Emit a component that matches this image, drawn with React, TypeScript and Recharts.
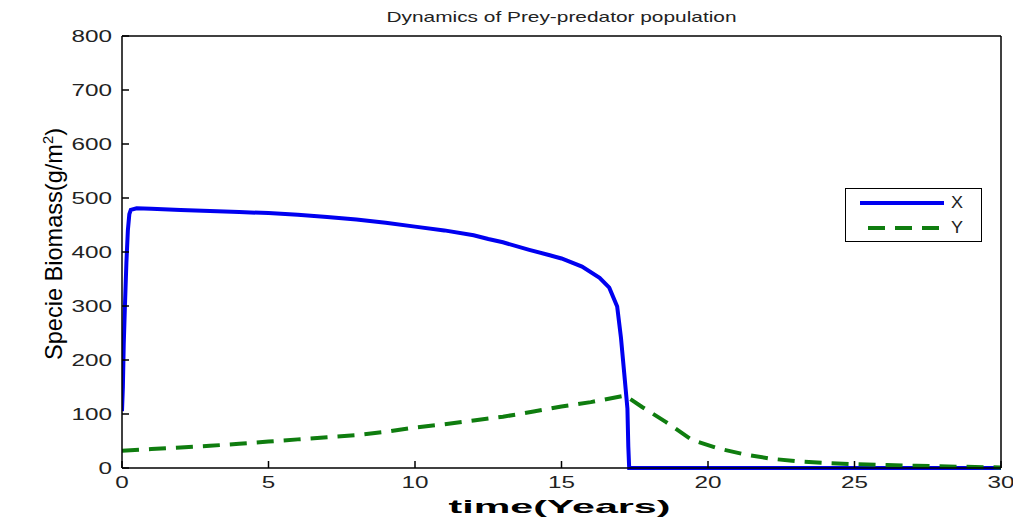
import React from 'react';
import { LineChart, Line, XAxis, YAxis, Legend, Label } from 'recharts';

// Prey (X) population
const preyTime = [0, 0.03, 0.06, 0.1, 0.15, 0.2, 0.25, 0.3, 0.5, 1, 2, 3, 4, 5, 6, 7, 8, 9, 10, 11, 12, 12.5, 13, 13.9, 14.6, 15, 15.7, 16.3, 16.63, 16.9, 17.03, 17.14, 17.25, 17.28, 17.31, 20, 25, 30];
const preyValues = [105, 150, 230, 300, 380, 440, 470, 478, 481, 480, 478, 476, 474, 472, 469, 465, 460, 454, 447, 440, 431, 424, 418, 404, 394, 388, 373, 352, 334, 299, 241, 176, 110, 40, 0, 0, 0, 0];

// Predator (Y) population
const predatorTime = [0, 1, 2, 3, 4, 5, 6, 7, 8, 9, 10, 11, 12, 13, 14, 15, 16, 17.17, 17.75, 18.57, 19.45, 20.36, 21.27, 22.18, 23.15, 24.05, 25, 26.1, 27.1, 28.5, 30];
const predatorValues = [32, 35, 38, 41, 45, 49, 53, 57, 61, 67, 75, 81, 88, 95, 104, 114, 122, 134, 113, 85, 52, 36, 25, 17, 12, 9, 7, 5.5, 4, 2.5, 1];

const xTicks = [0, 5, 10, 15, 20, 25, 30];
const yTicks = [0, 100, 200, 300, 400, 500, 600, 700, 800];

const titleText = 'Dynamics of Prey-predator population';
const xLabelText = 'time(Years)';
const yLabelText = 'Specie Biomass(g/m';

const preyData = preyTime.map((t, i) => ({ t, v: preyValues[i] }));
const predatorData = predatorTime.map((t, i) => ({ t, v: predatorValues[i] }));

const W = 1013;
const H = 522;
const FONT = "'Liberation Sans', Arial, Helvetica, sans-serif";
const BLUE = '#0000f0';
const GREEN = '#0f7d0f';

const PLOT_LEFT = 122;
const PLOT_RIGHT = 1001;
const PLOT_TOP = 36;

const XTick = (props: any) => {
  const { x, y, payload } = props;
  const s = String(payload.value);
  return (
    <text x={x} y={y + 13} textAnchor="middle" fontFamily={FONT} fontSize={17} fill="#222"
      textLength={13.5 * s.length} lengthAdjust="spacingAndGlyphs">{s}</text>
  );
};

const YTick = (props: any) => {
  const { x, y, payload } = props;
  const s = String(payload.value);
  return (
    <text x={x} y={y + 6} textAnchor="end" fontFamily={FONT} fontSize={17} fill="#222"
      textLength={13.5 * s.length} lengthAdjust="spacingAndGlyphs">{s}</text>
  );
};

const LegendContent = (props: any) => {
  const payload = (props.payload || []).filter((e: any) => e.value === 'X' || e.value === 'Y');
  return (
    <svg width={137} height={54} style={{ display: 'block' }}>
      <rect x={0.5} y={0.5} width={136} height={53} fill="#fff" stroke="#000" strokeWidth={1} />
      {payload.map((entry: any, i: number) => {
        const cy = 15 + i * 25;
        const dashed = entry.payload && entry.payload.strokeDasharray;
        return (
          <g key={i}>
            <line x1={dashed ? 23 : 15} x2={dashed ? 97 : 99} y1={cy} y2={cy} stroke={entry.color}
              strokeWidth={4} strokeDasharray={dashed || undefined} />
            <text x={106} y={cy + 5} fontFamily={FONT} fontSize={16} fill="#222"
              textLength={12} lengthAdjust="spacingAndGlyphs">{entry.value}</text>
          </g>
        );
      })}
    </svg>
  );
};

export default function App() {
  return (
    <div style={{ position: 'absolute', left: 0, top: 0, width: W, height: H, background: '#fff' }}>
      <LineChart width={W} height={H} margin={{ top: PLOT_TOP - 1, right: W - PLOT_RIGHT - 1, bottom: 24, left: 62 }}>
        <XAxis xAxisId="bottom" dataKey="t" type="number" domain={[0, 30]} ticks={xTicks} height={30}
          stroke="#000" strokeWidth={1.5} tickSize={-7} tickMargin={14} tick={<XTick />} allowDataOverflow>
          <Label content={() => (
            <text x={(PLOT_LEFT + PLOT_RIGHT) / 2 - 2} y={513} textAnchor="middle" fontFamily={FONT}
              fontWeight="bold" fontSize={19} fill="#000" textLength={222} lengthAdjust="spacingAndGlyphs">
              {xLabelText}
            </text>
          )} />
        </XAxis>
        <XAxis xAxisId="top" dataKey="t" orientation="top" type="number" domain={[0, 30]} ticks={xTicks} height={1}
          stroke="#000" strokeWidth={1.5} tickSize={-7} tick={false}>
          <Label content={() => (
            <text x={(PLOT_LEFT + PLOT_RIGHT) / 2} y={22} textAnchor="middle" fontFamily={FONT}
              fontSize={15} fill="#222" textLength={350} lengthAdjust="spacingAndGlyphs">
              {titleText}
            </text>
          )} />
        </XAxis>
        <YAxis yAxisId="left" type="number" domain={[0, 800]} ticks={yTicks} width={60}
          stroke="#000" strokeWidth={1.5} tickSize={-7} tickMargin={17} tick={<YTick />}>
          <Label content={() => (
            <text x={62} y={244} transform="rotate(-90, 62, 244)" textAnchor="middle" fontFamily={FONT}
              fontSize={24} fill="#000" textLength={232} lengthAdjust="spacingAndGlyphs">
              <tspan>{yLabelText}</tspan>
              <tspan dy={-9} fontSize={15}>2</tspan>
              <tspan dy={9}>)</tspan>
            </text>
          )} />
        </YAxis>
        <YAxis yAxisId="right" orientation="right" type="number" domain={[0, 800]} ticks={yTicks} width={1}
          stroke="#000" strokeWidth={1.5} tickSize={-7} tick={false} />
        <Legend layout="vertical" align="center" verticalAlign="middle"
          wrapperStyle={{ position: 'absolute', left: 845, top: 188, width: 137, height: 54 }}
          content={<LegendContent />} />
        <Line xAxisId="top" yAxisId="right" data={preyData} dataKey="v" name="frame" legendType="none"
          stroke="none" strokeWidth={0} dot={false} activeDot={false} isAnimationActive={false} />
        <Line xAxisId="bottom" yAxisId="left" data={preyData} dataKey="v" name="X" type="linear"
          stroke={BLUE} strokeWidth={4} dot={false} activeDot={false} isAnimationActive={false} />
        <Line xAxisId="bottom" yAxisId="left" data={predatorData} dataKey="v" name="Y" type="linear"
          stroke={GREEN} strokeWidth={4} strokeDasharray="17 10" dot={false} activeDot={false}
          isAnimationActive={false} />
      </LineChart>
    </div>
  );
}
